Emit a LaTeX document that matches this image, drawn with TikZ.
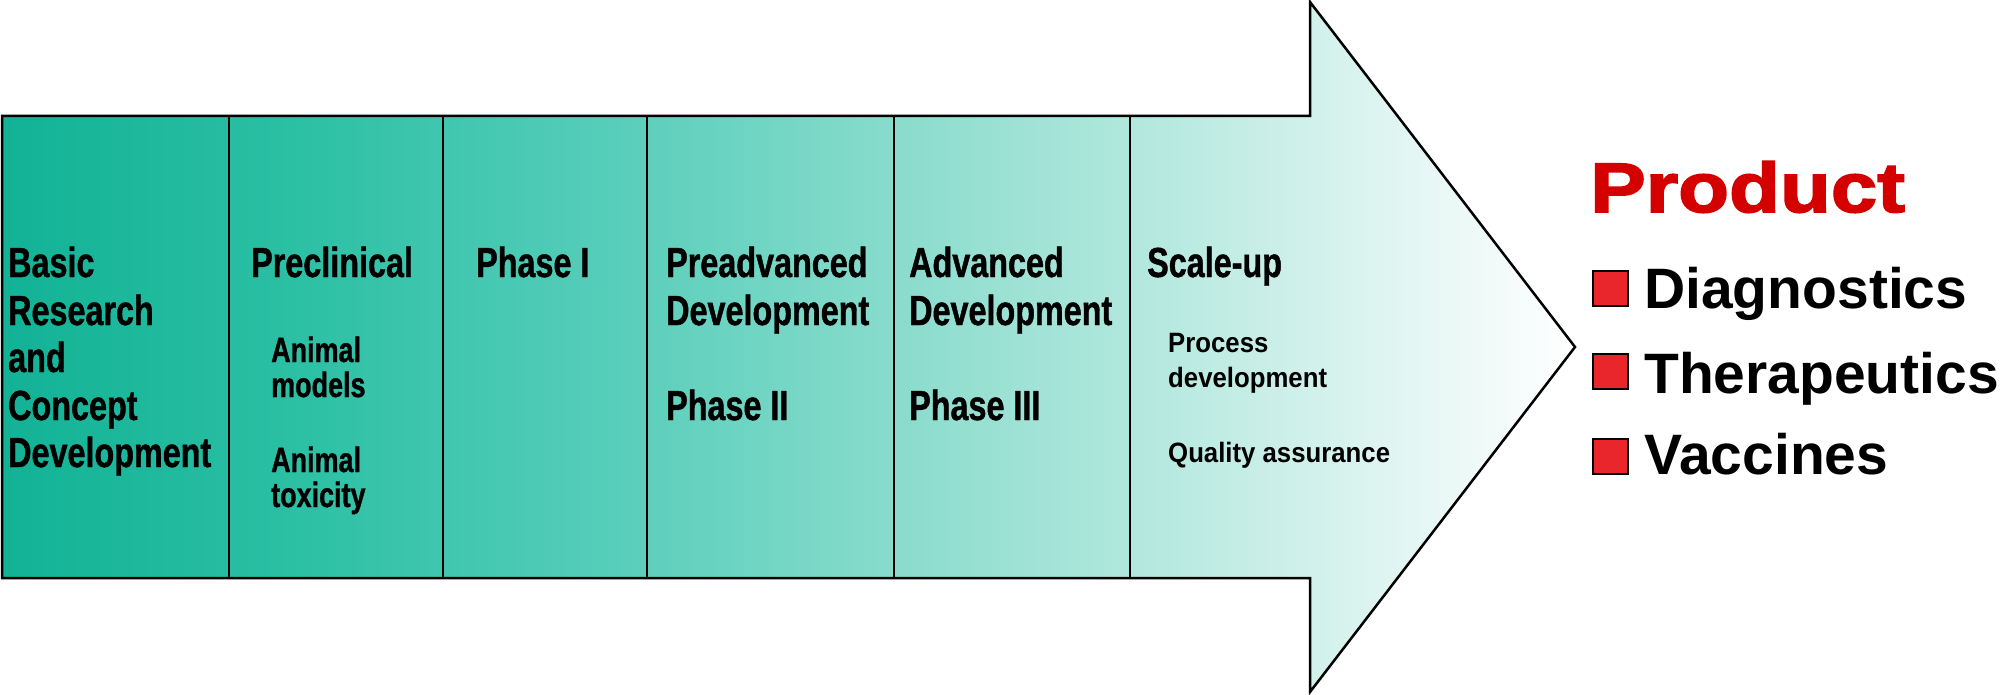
\documentclass[tikz,border=0pt]{standalone}
\usepackage{fontspec}
\setmainfont{Liberation Sans}
\newfontfamily\condfont[FakeStretch=0.77,BoldFeatures={FakeBold=1.0}]{Liberation Sans}
\newfontfamily\midfont[FakeStretch=0.92]{Liberation Sans}
\newfontfamily\blackfont[FakeStretch=1.19,BoldFeatures={FakeBold=2.5}]{Liberation Sans}
\definecolor{c0}{RGB}{18,178,150}
\definecolor{c1}{RGB}{44,192,165}
\definecolor{c2}{RGB}{85,205,185}
\definecolor{c3}{RGB}{138,220,205}
\definecolor{c4}{RGB}{189,235,226}
\definecolor{c5}{RGB}{234,248,246}
\definecolor{prodred}{RGB}{212,0,0}
\definecolor{boxred}{RGB}{232,38,43}
\pgfdeclarehorizontalshading{arrowshade}{100bp}{color(0bp)=(c0); color(25bp)=(c0); color(34.5bp)=(c1); color(44bp)=(c2); color(53.6bp)=(c3); color(63.1bp)=(c4); color(71bp)=(c5); color(75bp)=(white); color(100bp)=(white)}
\begin{document}
\begin{tikzpicture}[x=1pt,y=-1pt,
  head/.style={anchor=base west,inner sep=0pt,font=\condfont\bfseries\fontsize{42}{48}\selectfont},
  sub/.style={anchor=base west,inner sep=0pt,font=\condfont\bfseries\fontsize{35}{40}\selectfont},
  mid/.style={anchor=base west,inner sep=0pt,font=\midfont\bfseries\fontsize{28}{32}\selectfont},
  item/.style={anchor=base west,inner sep=0pt,font=\bfseries\fontsize{57}{64}\selectfont},
  sq/.style={draw=black,line width=2pt,fill=boxred,minimum size=35pt,inner sep=0pt},
  divider/.style={line width=2.2pt}]
\useasboundingbox (0,0) rectangle (2013,695);
% arrow
\shadedraw[shading=arrowshade,line width=2.5pt,line join=miter]
  (2,116) -- (1310,116) -- (1310,2) -- (1575,347) -- (1310,692) -- (1310,578) -- (2,578) -- cycle;
\foreach \x in {229,443,647,894,1130}{\draw[divider] (\x,116) -- (\x,578);}
% column 1
\node[head] (b1) at (8,277) {Basic};
\node[head] (b2) at (8,325) {Research};
\node[head] (b3) at (8,372) {and};
\node[head] (b4) at (8,420) {Concept};
\node[head] (b5) at (8,467) {Development};
% column 2
\node[head] (p1) at (251,277) {Preclinical};
\node[sub] (p2) at (271,362) {Animal};
\node[sub] (p3) at (271,397) {models};
\node[sub] (p4) at (271,472) {Animal};
\node[sub] (p5) at (271,507) {toxicity};
% column 3
\node[head] (ph1) at (476,277) {Phase I};
% column 4
\node[head] (pa1) at (666,277) {Preadvanced};
\node[head] (pa2) at (666,325) {Development};
\node[head] (pa3) at (666,420) {Phase II};
% column 5
\node[head] (ad1) at (909,277) {Advanced};
\node[head] (ad2) at (909,325) {Development};
\node[head] (ad3) at (909,420) {Phase III};
% column 6
\node[head] (su1) at (1147,277) {Scale-up};
\node[mid] (su2) at (1168,352) {Process};
\node[mid] (su3) at (1168,387) {development};
\node[mid] (su4) at (1168,462) {Quality assurance};
% product
\node[anchor=base west,inner sep=0pt,text=prodred,font=\blackfont\bfseries\fontsize{70}{80}\selectfont] (prod) at (1590,212) {Product};
\node[sq] (s1) at (1610.5,288.5) {};
\node[sq] (s2) at (1610.5,371.5) {};
\node[sq] (s3) at (1610.5,456.5) {};
\node[item] (d1) at (1644,308) {Diagnostics};
\node[item] (d2) at (1644,393) {Therapeutics};
\node[item] (d3) at (1644,474) {Vaccines};
\end{tikzpicture}
\end{document}
